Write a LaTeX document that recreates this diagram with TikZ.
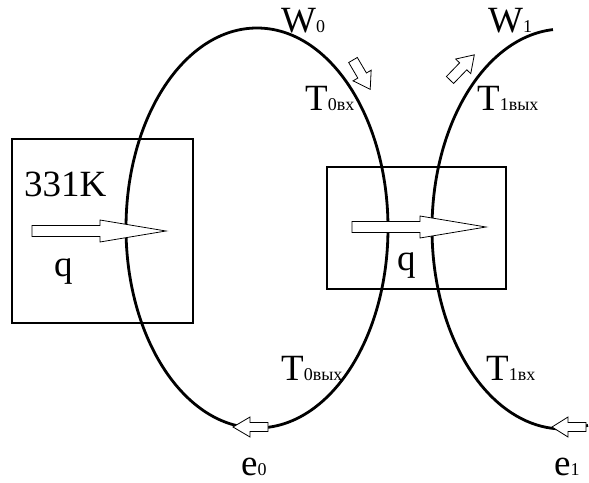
\documentclass[tikz,border=0pt]{standalone}
\usepackage{fontspec}
\setmainfont{Liberation Serif}
\usetikzlibrary{positioning}
\newcommand{\bigsize}{\rmfamily\fontsize{37}{40}\selectfont}
\newcommand{\idx}[1]{{\fontsize{18}{20}\selectfont #1}}
% hollow block arrow: at, angle, length, head length, shaft half width, head half width
\newcommand{\hollowarrow}[6]{%
  \draw[flowline, shift={#1}, rotate=#2]
    (0,-#5) -- (#3-#4,-#5) -- (#3-#4,-#6) -- (#3,0) -- (#3-#4,#6) -- (#3-#4,#5) -- (0,#5) -- cycle;}
\tikzset{
  curve/.style={line width=2.8pt, black},
  box/.style={line width=2.6pt, black},
  flowline/.style={line width=0.8pt, black, fill=white, line join=miter},
  tag/.style={anchor=base west, inner sep=0pt, font=\bigsize}
}

\begin{document}
\begin{tikzpicture}[x=1pt, y=-1pt]
  \useasboundingbox (0,0) rectangle (589,482);
  % exchangers
  \draw[box] (12,139) rectangle (193,323);
  \draw[box] (327,167) rectangle (506,289);
  % working loops
  \draw[curve] (257,228) ellipse [x radius=131, y radius=200];
  \draw[curve] (563,229) ++(265.6:131 and 200)
    arc[start angle=265.6, end angle=79, x radius=131, y radius=200];
  % heat flows
  \hollowarrow{(32,231)}{0}{134}{66}{5.5}{11}
  \hollowarrow{(352,227)}{0}{134}{66}{5.5}{11}
  % flow direction
  \hollowarrow{(353,60)}{-59.6}{34}{16}{5}{10.5}
  \hollowarrow{(450,80)}{46}{35}{16}{5}{10.5}
  \hollowarrow{(268,427)}{180}{35}{17}{4.5}{10}
  \hollowarrow{(586,427)}{180}{34}{16}{4.5}{10}
  % labels
  \node[tag] (src) at (24,196) {331K};
  \node[tag] (q0) at (54,276) {q};
  \node[tag] (q1) at (397,270) {q};
  \node[tag] (w0) at (281,32) {W\idx{0}};
  \node[tag] (w1) at (488,32) {W\idx{1}};
  \node[tag] (t0in) at (305,110) {T\idx{0вх}};
  \node[tag] (t1out) at (477,110) {T\idx{1вых}};
  \node[tag] (t0out) at (281,380) {T\idx{0вых}};
  \node[tag] (t1in) at (486,380) {T\idx{1вх}};
  \node[tag] (e0) at (241,475) {e\idx{0}};
  \node[tag] (e1) at (554,475) {e\idx{1}};
\end{tikzpicture}
\end{document}
